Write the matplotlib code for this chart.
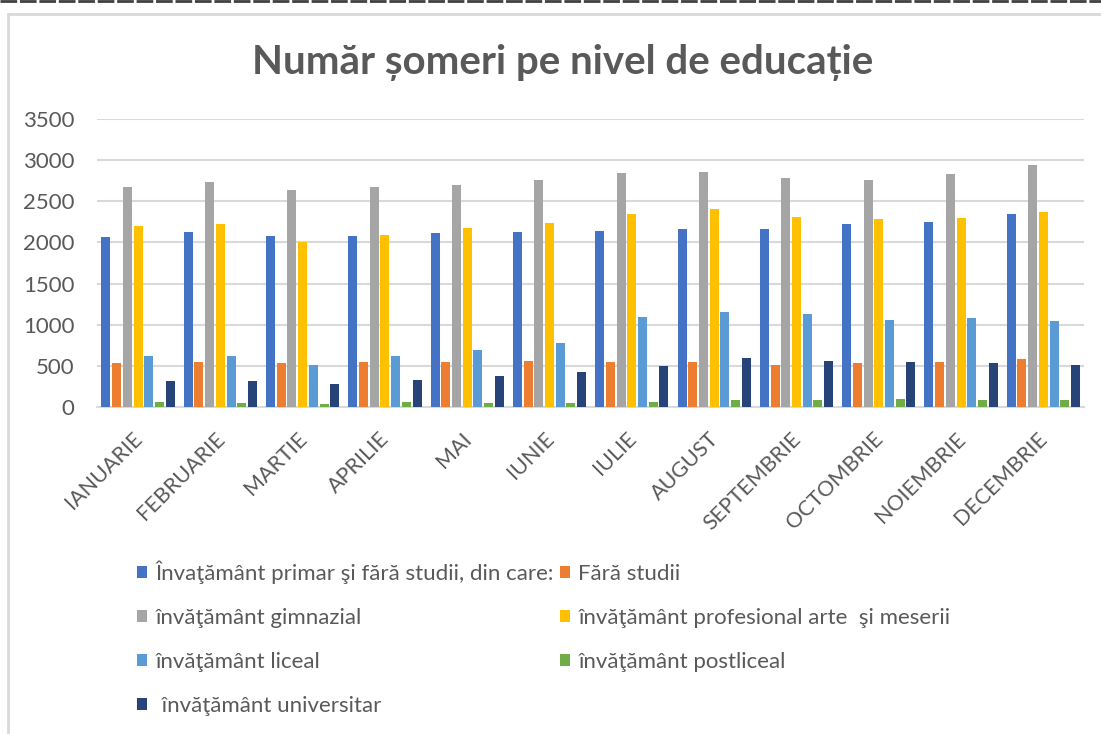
import matplotlib
matplotlib.use("Agg")
import matplotlib.pyplot as plt
import numpy as np
from matplotlib.lines import Line2D
from matplotlib.transforms import ScaledTranslation

months = ["IANUARIE", "FEBRUARIE", "MARTIE", "APRILIE", "MAI", "IUNIE", "IULIE",
          "AUGUST", "SEPTEMBRIE", "OCTOMBRIE", "NOIEMBRIE", "DECEMBRIE"]

series_names = [
    "Învaţământ primar şi fără studii, din care:",
    "Fără studii",
    "învăţământ gimnazial",
    "învăţământ profesional arte  şi meserii",
    "învăţământ liceal",
    "învăţământ postliceal",
    " învăţământ universitar",
]

primar = [2060, 2122, 2077, 2077, 2109, 2125, 2141, 2158, 2158, 2219, 2247, 2344]
fara_studii = [531, 548, 531, 548, 548, 564, 548, 548, 516, 531, 548, 580]
gimnazial = [2669, 2730, 2640, 2669, 2701, 2762, 2843, 2859, 2778, 2762, 2827, 2937]
profesional = [2202, 2219, 2000, 2093, 2170, 2235, 2344, 2405, 2311, 2279, 2296, 2373]
liceal = [625, 625, 516, 625, 690, 783, 1095, 1156, 1124, 1063, 1079, 1046]
postliceal = [66, 49, 33, 66, 49, 49, 66, 81, 81, 97, 81, 81]
universitar = [316, 316, 284, 333, 377, 426, 503, 596, 564, 548, 531, 516]

values = [primar, fara_studii, gimnazial, profesional, liceal, postliceal, universitar]
colors = ["#4472C4", "#ED7D31", "#A5A5A5", "#FFC000", "#5B9BD5", "#70AD47", "#264478"]

plt.rcParams['font.family'] = ['Lato', 'DejaVu Sans']
txt = "#595959"

fig = plt.figure(figsize=(11.01, 7.34), dpi=100)
ax = fig.add_axes([0.088, 0.4455, 0.897, 0.3925])

x = np.arange(len(months))
slot = 0.13
bw = 0.11
handles = []
for i, (vals, c) in enumerate(zip(values, colors)):
    off = (i - 3) * slot
    b = ax.bar(x + off, vals, width=bw, color=c, zorder=3)
    handles.append(b)

ax.set_xlim(-0.5, 11.5)
ax.set_ylim(0, 3500)
ax.set_yticks(np.arange(0, 3501, 500))
ax.yaxis.grid(True, color="#D9D9D9", linewidth=1.5, zorder=0)
ax.set_axisbelow(True)
for s in ["top", "right", "left"]:
    ax.spines[s].set_visible(False)
ax.spines["bottom"].set_color("#D9D9D9")
ax.spines["bottom"].set_linewidth(1.5)
ax.tick_params(axis="both", length=0, colors=txt)
ax.tick_params(axis="y", pad=16, labelsize=16)
ax.set_xticks(x)
ax.set_xticklabels(months, rotation=45, ha="right", rotation_mode="anchor", fontsize=15.5, color=txt)
ax.tick_params(axis="x", pad=12)
shift = ScaledTranslation(-6 / 100, -5 / 100, fig.dpi_scale_trans)
for lab in ax.get_xticklabels():
    lab.set_transform(lab.get_transform() + shift)

fig.text(0.511, 0.915, "Număr șomeri pe nivel de educație", ha="center", va="center",
         fontsize=29, fontweight="bold", color=txt)

order = [0, 2, 4, 6, 1, 3, 5]
leg = fig.legend([handles[i] for i in order], [series_names[i] for i in order],
                 ncol=2, loc="upper left", bbox_to_anchor=(0.106, 0.264),
                 frameon=False, fontsize=16, labelcolor=txt,
                 handlelength=0.45, handleheight=0.45, handletextpad=0.4,
                 columnspacing=0.25, labelspacing=1.08)

# frame lines
fig.add_artist(Line2D([0, 1], [0.998, 0.998], color="#404040", linewidth=2, linestyle=(0, (6, 1))))
fig.add_artist(Line2D([0.0075, 1], [0.981, 0.981], color="#D9D9D9", linewidth=2))
fig.add_artist(Line2D([0.0075, 0.0075], [0, 0.981], color="#D9D9D9", linewidth=2))

fig.savefig("out.png", dpi=100)
